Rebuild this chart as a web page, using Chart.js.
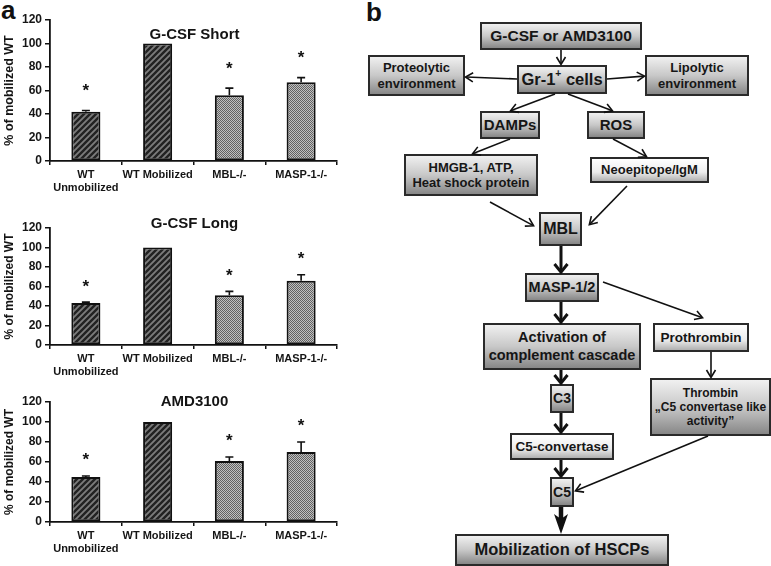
<!DOCTYPE html>
<html><head><meta charset="utf-8">
<script src="https://cdn.jsdelivr.net/npm/chart.js@4"></script>
<style>
body{margin:0;background:#fff;width:771px;height:566px;position:relative;overflow:hidden;font-family:"Liberation Sans",Arial,sans-serif;}
canvas.cv{position:absolute;left:0;}
.box{position:absolute;box-sizing:border-box;border:2px solid #2a2a2a;background:linear-gradient(to bottom,#f0f0f0 0%,#c8c8c8 50%,#878787 100%);display:flex;align-items:center;justify-content:center;text-align:center;font-weight:bold;color:#161616;line-height:1.18;white-space:nowrap;}
.box.light{background:linear-gradient(to bottom,#ffffff 0%,#ececec 60%,#b0b0b0 100%);}
.box sup{font-size:62%;line-height:0;position:relative;top:-0.1em;vertical-align:super;}
.plabel{position:absolute;font-weight:bold;font-size:26px;color:#111;line-height:1;}
svg{position:absolute;left:0;top:0;}
</style>
</head><body>
<div class="plabel" style="left:1px;top:-3px;">a</div>
<div class="plabel" style="left:366px;top:-1px;">b</div>
<canvas class="cv" id="c1" width="345" height="201" style="top:0px"></canvas>
<canvas class="cv" id="c2" width="345" height="177" style="top:208px"></canvas>
<canvas class="cv" id="c3" width="345" height="180" style="top:382px"></canvas>
<div id="flow"></div>
<svg id="arrows" width="771" height="566"></svg>
<script>
// ---- data (panel a) ----
const categories = [['WT', 'Unmobilized'], 'WT Mobilized', 'MBL-/-', 'MASP-1-/-'];
const gcsfShortMean = [42, 100, 56, 67];
const gcsfShortErr  = [1, 0, 6, 4];
const gcsfLongMean  = [43, 100, 51, 66];
const gcsfLongErr   = [1, 0, 4, 6];
const amd3100Mean   = [45, 100, 61, 70];
const amd3100Err    = [1, 0, 4, 10];
const significant   = [true, false, true, true];
const yTickMin = 0, yTickMax = 120, yTickStep = 20;
const yAxisTitle = '% of mobilized WT';
const chartTitles = ['G-CSF Short', 'G-CSF Long', 'AMD3100'];

const FONT = '"Liberation Sans", Arial, sans-serif';

function makeHatch() {
  const c = document.createElement('canvas'); c.width = 6; c.height = 6;
  const x = c.getContext('2d');
  x.fillStyle = '#7c7c7c'; x.fillRect(0, 0, 6, 6);
  x.strokeStyle = '#222'; x.lineWidth = 2.4;
  x.beginPath();
  x.moveTo(-1, 7); x.lineTo(7, -1);
  x.moveTo(-4, 4); x.lineTo(4, -4);
  x.moveTo(2, 10); x.lineTo(10, 2);
  x.stroke();
  return x.createPattern(c, 'repeat');
}
function makeDots() {
  const c = document.createElement('canvas'); c.width = 2; c.height = 2;
  const x = c.getContext('2d');
  x.fillStyle = '#c0c0c0'; x.fillRect(0, 0, 2, 2);
  x.fillStyle = '#626262'; x.fillRect(0, 0, 1, 1); x.fillRect(1, 1, 1, 1);
  return x.createPattern(c, 'repeat');
}
const hatch = makeHatch(), dots = makeDots();
const barFills = [hatch, hatch, dots, dots];

const titlePlugin = {
  id: 'ptitle',
  afterDraw(chart, args, opts) {
    const ctx = chart.ctx, a = chart.chartArea;
    ctx.save();
    ctx.font = 'bold 15px ' + FONT;
    ctx.fillStyle = '#141414';
    ctx.textAlign = 'center'; ctx.textBaseline = 'middle';
    ctx.fillText(opts.text, (a.left + a.right) / 2 + 1, a.top + opts.dy);
    ctx.restore();
  }
};
const errPlugin = {
  id: 'errs',
  afterDatasetsDraw(chart, args, opts) {
    const ctx = chart.ctx, ys = chart.scales.y;
    const meta = chart.getDatasetMeta(0);
    const vals = chart.data.datasets[0].data;
    ctx.save();
    meta.data.forEach((el, i) => {
      const top = vals[i] + opts.err[i];
      if (opts.err[i] > 0) {
        const yt = ys.getPixelForValue(top);
        ctx.strokeStyle = '#111'; ctx.lineWidth = 1.6;
        ctx.beginPath();
        ctx.moveTo(el.x, el.y); ctx.lineTo(el.x, yt);
        ctx.moveTo(el.x - 4, yt); ctx.lineTo(el.x + 4, yt);
        ctx.stroke();
      }
      if (opts.sig[i]) {
        const ya = ys.getPixelForValue(top + 20);
        ctx.font = 'bold 17px ' + FONT;
        ctx.fillStyle = '#111'; ctx.textAlign = 'center'; ctx.textBaseline = 'alphabetic';
        ctx.fillText('*', el.x, ya + 9);
      }
    });
    ctx.restore();
  }
};

function makeChart(id, means, errs, title, dy, titleFont) {
  return new Chart(document.getElementById(id), {
    type: 'bar',
    data: {
      labels: categories,
      datasets: [{
        data: means,
        backgroundColor: barFills,
        borderColor: '#111',
        borderWidth: 2,
        borderSkipped: false,
        categoryPercentage: 1,
        barPercentage: 0.405
      }]
    },
    options: {
      responsive: false, animation: false, devicePixelRatio: 1,
      layout: { padding: { top: 20, right: 8, left: 0, bottom: 0 } },
      plugins: {
        legend: { display: false }, tooltip: { enabled: false },
        ptitle: { text: title, dy: dy },
        errs: { err: errs, sig: significant }
      },
      scales: {
        x: {
          afterFit(s) { s.height = 40; },
          grid: { display: true, drawOnChartArea: false, drawTicks: true, tickLength: 4, color: '#111', lineWidth: 1.5, offset: true },
          border: { display: true, color: '#111', width: 1.8 },
          ticks: { color: '#151515', font: { family: FONT, size: 11, weight: 'bold', lineHeight: 1.12 }, padding: 4, maxRotation: 0, autoSkip: false }
        },
        y: {
          min: yTickMin, max: yTickMax,
          afterFit(s) { s.width = 50; },
          grid: { display: true, drawOnChartArea: false, drawTicks: true, tickLength: 5, color: '#111', lineWidth: 1.5 },
          border: { display: true, color: '#111', width: 1.8 },
          ticks: { stepSize: yTickStep, color: '#151515', font: { family: FONT, size: 12, weight: 'bold' }, padding: 3 },
          title: { display: true, text: yAxisTitle, color: '#151515', font: { family: FONT, size: titleFont, weight: 'bold' }, padding: { top: 2, bottom: 2 } }
        }
      }
    },
    plugins: [titlePlugin, errPlugin]
  });
}
makeChart('c1', gcsfShortMean, gcsfShortErr, chartTitles[0], 15, 12.5);
makeChart('c2', gcsfLongMean, gcsfLongErr, chartTitles[1], -4, 12);
makeChart('c3', amd3100Mean, amd3100Err, chartTitles[2], 0, 12);

// ---- panel b: flow diagram ----
const boxes = [
  { t: 'G-CSF or AMD3100', x: 480, y: 22, w: 162, h: 28, fs: 15.5 },
  { t: 'Gr-1<sup>+</sup> cells', x: 517, y: 65, w: 90, h: 29, fs: 16.5 },
  { t: 'Proteolytic<br>environment', x: 368, y: 55, w: 97, h: 41, fs: 13 },
  { t: 'Lipolytic<br>environment', x: 645, y: 55, w: 104, h: 41, fs: 13 },
  { t: 'DAMPs', x: 480, y: 111, w: 60, h: 28, fs: 15 },
  { t: 'ROS', x: 587, y: 111, w: 58, h: 28, fs: 15 },
  { t: 'HMGB-1, ATP,<br>Heat shock protein', x: 404, y: 154, w: 134, h: 42, fs: 13 },
  { t: 'Neoepitope/IgM', x: 590, y: 157, w: 119, h: 26, fs: 13, light: true },
  { t: 'MBL', x: 539, y: 212, w: 43, h: 34, fs: 16 },
  { t: 'MASP-1/2', x: 525, y: 273, w: 74, h: 29, fs: 14.5 },
  { t: 'Activation of<br>complement cascade', x: 483, y: 323, w: 158, h: 47, fs: 14.5 },
  { t: 'Prothrombin', x: 653, y: 323, w: 96, h: 29, fs: 13.5, light: true },
  { t: 'Thrombin<br>\u201EC5 convertase like<br>activity\u201D', x: 650, y: 378, w: 121, h: 58, fs: 12 },
  { t: 'C3', x: 550, y: 384, w: 24, h: 29, fs: 14 },
  { t: 'C5-convertase', x: 510, y: 433, w: 104, h: 27, fs: 13.5, light: true },
  { t: 'C5', x: 550, y: 477, w: 24, h: 30, fs: 14 },
  { t: 'Mobilization of HSCPs', x: 455, y: 534, w: 214, h: 32, fs: 16.5 }
];
const flow = document.getElementById('flow');
boxes.forEach(b => {
  const d = document.createElement('div');
  d.className = 'box' + (b.light ? ' light' : '');
  d.style.left = b.x + 'px'; d.style.top = b.y + 'px';
  d.style.width = b.w + 'px'; d.style.height = b.h + 'px';
  d.style.fontSize = b.fs + 'px';
  const s = document.createElement('span');
  s.innerHTML = b.t;
  d.appendChild(s);
  flow.appendChild(d);
});

const svg = document.getElementById('arrows');
const NS = 'http://www.w3.org/2000/svg';
function el(name, attrs) {
  const e = document.createElementNS(NS, name);
  for (const k in attrs) e.setAttribute(k, attrs[k]);
  svg.appendChild(e); return e;
}
function arrow(x1, y1, x2, y2, sw, L, H, filled) {
  const dx = x2 - x1, dy = y2 - y1, len = Math.hypot(dx, dy);
  const ux = dx / len, uy = dy / len, nx = -uy, ny = ux;
  const bx = x2 - L * ux, by = y2 - L * uy;
  const lx = bx + H * nx, ly = by + H * ny, rx = bx - H * nx, ry = by - H * ny;
  const endShaft = filled ? L * 0.6 : sw * 0.8;
  el('line', { x1: x1, y1: y1, x2: x2 - endShaft * ux, y2: y2 - endShaft * uy, stroke: '#111', 'stroke-width': sw });
  if (filled) {
    el('polygon', { points: `${lx},${ly} ${x2},${y2} ${rx},${ry} ${x2 - L * 0.75 * ux},${y2 - L * 0.75 * uy}`, fill: '#111' });
  } else {
    el('polyline', { points: `${lx},${ly} ${x2 - sw * 0.3 * ux},${y2 - sw * 0.3 * uy} ${rx},${ry}`, fill: 'none', stroke: '#111', 'stroke-width': sw, 'stroke-linejoin': 'miter', 'stroke-miterlimit': 10 });
  }
}
const thin = [
  [561, 50, 561, 65], [517, 79, 465, 77], [607, 79, 645, 76],
  [555, 94, 510, 111], [568, 94, 613, 111], [510, 139, 472, 154],
  [613, 139, 647, 157], [490, 202, 534, 226], [627, 186, 589, 225],
  [603, 282, 703, 318], [711, 352, 711, 378], [708, 436, 575, 491]
];
thin.forEach(a => arrow(a[0], a[1], a[2], a[3], 1.6, 8, 4.5, false));
const thick = [[561, 246, 561, 273], [561, 302, 561, 323], [561, 370, 561, 384], [561, 413, 561, 433], [561, 460, 561, 477]];
thick.forEach(a => arrow(a[0], a[1], a[2], a[3], 3, 9, 6.5, false));
arrow(561, 507, 561, 534, 4.5, 20, 7, true);
</script>
</body></html>
